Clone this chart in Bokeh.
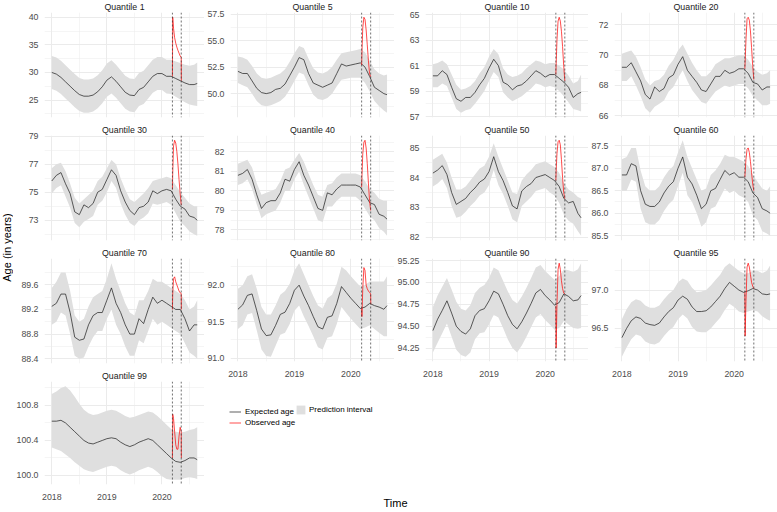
import math
from bokeh.plotting import figure
from bokeh.layouts import row, column
from bokeh.models import Range1d, FixedTicker, PrintfTickFormatter, Span, Legend, LegendItem
from bokeh.embed import file_html
from bokeh.resources import INLINE
from bokeh.core.properties import value

FONT = "Liberation Sans"
BAND = "#DFDFDF"
GRID = "#EBEBEB"
LINE = "#1A1A1A"
NAN = float("nan")

# time axis (decimal years): monthly samples plus the last observation
months = [2018 + k / 12 for k in range(32)] + [2020.64]
# observed period (lockdown window)
obs_t = [2020.19, 2020.195, 2020.21, 2020.23, 2020.25, 2020.27, 2020.29, 2020.31, 2020.33, 2020.35, 2020.352]
break_start = 2020.19
break_end = 2020.35
x_ticks = [2018, 2019, 2020]

# ---- Quantile 1
q01_exp = [30.0, 29.7, 29.1, 28.3, 27.5, 26.7, 26.0, 25.7, 25.7, 25.9, 26.5, 27.4, 28.6, 29.2, 28.4, 27.4, 26.4, 25.9, 25.8, 26.9, 27.3, 28.3, 29.3, 29.8, 29.8, 29.3, 29.3, 28.9, 28.5, 28.1, 27.8, 27.8, 28.0]
q01_hi = [33.0, 32.7, 32.1, 31.3, 30.5, 29.7, 29.0, 28.7, 28.7, 28.9, 29.5, 30.4, 31.6, 32.2, 31.4, 30.4, 29.4, 28.9, 28.8, 29.9, 30.3, 31.3, 32.3, 32.8, 32.8, 32.3, 32.3, 32.0, 31.7, 31.4, 31.2, 31.4, 31.8]
q01_lo = [27.0, 26.7, 26.1, 25.3, 24.5, 23.7, 23.0, 22.7, 22.7, 22.9, 23.5, 24.4, 25.6, 26.2, 25.4, 24.4, 23.4, 22.9, 22.8, 23.9, 24.3, 25.3, 26.3, 26.8, 26.8, 26.2, 26.1, 25.6, 25.1, 24.6, 24.2, 24.0, 23.9]
q01_obs = [29.3, 40.0, 38.0, 36.3, 35.3, 34.6, 34.0, 33.5, 33.0, 32.7, 28.5]
q01_ticks = [25, 30, 35, 40]

# ---- Quantile 5
q05_exp = [52.1, 51.9, 51.9, 51.2, 50.5, 50.1, 50.0, 50.1, 50.4, 50.5, 50.9, 51.7, 52.5, 53.4, 53.2, 51.9, 51.0, 50.8, 50.6, 50.8, 51.0, 51.9, 52.8, 52.6, 52.7, 52.8, 52.9, 52.5, 51.6, 50.6, 50.3, 50.0, 49.9]
q05_hi = [53.5, 53.4, 53.2, 52.6, 51.9, 51.5, 51.4, 51.5, 51.7, 51.9, 52.3, 53.0, 53.8, 54.5, 54.3, 53.3, 52.4, 52.0, 51.9, 52.1, 52.5, 53.2, 53.8, 53.9, 54.0, 54.1, 54.2, 53.9, 53.1, 52.3, 51.9, 51.7, 51.8]
q05_lo = [51.0, 50.8, 50.6, 50.0, 49.3, 48.9, 48.8, 48.9, 49.1, 49.3, 49.7, 50.4, 51.2, 52.0, 51.8, 50.8, 49.9, 49.5, 49.4, 49.6, 50.0, 50.7, 51.3, 51.4, 51.5, 51.5, 51.5, 51.0, 50.2, 49.3, 48.8, 48.4, 48.2]
q05_obs = [52.7, 53.8, 56.2, 57.2, 57.0, 56.0, 54.6, 53.1, 51.9, 51.6, 51.6]
q05_ticks = [50.0, 52.5, 55.0, 57.5]

# ---- Quantile 10
q10_exp = [60.2, 60.2, 60.6, 60.3, 59.3, 58.4, 58.2, 58.5, 58.5, 58.9, 59.5, 60.0, 60.8, 61.5, 61.0, 59.7, 59.5, 59.1, 59.4, 59.5, 59.8, 60.2, 60.6, 60.4, 60.1, 60.3, 60.3, 60.0, 59.7, 59.3, 58.5, 58.8, 58.9]
q10_hi = [61.1, 61.2, 61.4, 61.1, 60.3, 59.5, 59.1, 59.2, 59.4, 59.8, 60.4, 60.9, 61.7, 62.3, 61.9, 60.8, 60.3, 60.1, 60.2, 60.4, 60.8, 61.1, 61.4, 61.3, 61.1, 61.2, 61.2, 61.0, 60.7, 60.2, 59.6, 59.8, 60.3]
q10_lo = [59.3, 59.3, 59.6, 59.4, 58.5, 57.6, 57.3, 57.5, 57.6, 58.0, 58.5, 59.0, 59.8, 60.5, 60.1, 58.9, 58.5, 58.2, 58.4, 58.6, 58.9, 59.2, 59.6, 59.5, 59.3, 59.4, 59.3, 59.0, 58.6, 58.1, 57.6, 57.5, 57.4]
q10_obs = [60.3, 61.0, 63.0, 64.5, 64.8, 64.5, 63.7, 62.5, 61.0, 59.8, 59.8]
q10_ticks = [57, 59, 61, 63, 65]

# ---- Quantile 20
q20_exp = [69.2, 69.2, 69.5, 68.9, 68.3, 67.4, 67.1, 67.9, 67.6, 67.8, 68.5, 68.7, 69.4, 69.9, 69.0, 68.6, 68.2, 67.7, 67.6, 68.1, 68.6, 68.6, 69.0, 68.8, 68.9, 69.1, 69.1, 68.8, 68.2, 68.1, 67.7, 67.9, 67.9]
q20_hi = [70.1, 70.2, 70.3, 69.9, 69.2, 68.4, 68.0, 68.3, 68.4, 68.7, 69.3, 69.7, 70.3, 70.7, 70.1, 69.5, 69.0, 68.6, 68.6, 68.9, 69.4, 69.6, 69.8, 69.8, 69.9, 70.0, 70.0, 69.7, 69.2, 68.9, 68.7, 68.8, 69.0]
q20_lo = [68.3, 68.3, 68.6, 68.0, 67.3, 66.5, 66.2, 66.6, 66.8, 67.0, 67.6, 67.9, 68.5, 69.0, 68.3, 67.7, 67.3, 66.9, 66.8, 67.2, 67.6, 67.8, 68.0, 67.9, 68.0, 68.1, 68.1, 67.8, 67.3, 67.0, 66.7, 66.7, 66.8]
q20_obs = [69.1, 69.5, 71.0, 72.4, 72.5, 72.3, 71.6, 70.5, 69.3, 68.4, 68.4]
q20_ticks = [66, 68, 70, 72]

# ---- Quantile 30
q30_exp = [75.8, 76.2, 76.4, 75.6, 74.9, 73.6, 73.4, 74.1, 73.9, 74.2, 75.0, 75.2, 75.9, 76.6, 76.2, 75.1, 74.3, 73.7, 73.4, 73.9, 74.0, 74.3, 75.1, 74.9, 75.1, 75.2, 75.1, 74.5, 74.0, 73.8, 73.3, 73.2, 73.0]
q30_hi = [76.7, 77.0, 77.1, 76.5, 75.6, 74.6, 74.2, 74.5, 74.8, 75.1, 75.8, 76.1, 76.7, 77.3, 77.0, 76.0, 75.2, 74.5, 74.3, 74.6, 74.9, 75.3, 75.8, 75.9, 76.0, 76.1, 76.0, 75.5, 75.0, 74.6, 74.2, 74.0, 74.0]
q30_lo = [74.9, 75.3, 75.5, 74.7, 73.9, 72.8, 72.5, 72.9, 73.1, 73.3, 74.1, 74.4, 75.0, 75.8, 75.3, 74.2, 73.4, 72.8, 72.6, 73.0, 73.2, 73.5, 74.2, 74.1, 74.2, 74.3, 74.1, 73.5, 72.9, 72.6, 72.2, 72.0, 71.9]
q30_obs = [75.2, 76.3, 78.3, 78.7, 78.5, 77.9, 77.0, 75.9, 74.9, 74.1, 74.1]
q30_ticks = [73, 75, 77, 79]

# ---- Quantile 40
q40_exp = [80.8, 80.9, 81.1, 80.6, 79.8, 79.1, 79.4, 79.5, 79.5, 79.9, 80.6, 80.5, 81.1, 81.5, 80.8, 80.3, 79.7, 79.1, 79.0, 79.9, 79.8, 80.1, 80.3, 80.3, 80.3, 80.3, 80.2, 79.8, 79.4, 79.3, 78.8, 78.7, 78.55]
q40_hi = [81.4, 81.5, 81.6, 81.2, 80.4, 79.8, 79.9, 80.0, 80.1, 80.5, 81.1, 81.2, 81.6, 81.95, 81.5, 80.9, 80.3, 79.8, 79.7, 80.3, 80.4, 80.7, 80.9, 80.9, 80.9, 80.9, 80.8, 80.5, 80.1, 79.9, 79.6, 79.5, 79.5]
q40_lo = [80.3, 80.4, 80.6, 80.1, 79.3, 78.6, 78.8, 78.9, 79.0, 79.4, 80.0, 80.0, 80.6, 81.0, 80.3, 79.7, 79.1, 78.5, 78.4, 79.2, 79.2, 79.5, 79.7, 79.7, 79.7, 79.7, 79.5, 79.1, 78.7, 78.5, 78.1, 77.9, 77.7]
q40_obs = [80.2, 80.7, 81.9, 82.5, 82.6, 82.2, 81.4, 80.4, 79.5, 79.0, 79.0]
q40_ticks = [78, 79, 80, 81, 82]

# ---- Quantile 50
q50_exp = [84.15, 84.25, 84.4, 84.1, 83.5, 83.1, 83.2, 83.3, 83.5, 83.65, 83.85, 83.95, 84.2, 84.7, 84.2, 83.9, 83.5, 83.05, 82.95, 83.55, 83.7, 83.8, 84.0, 84.05, 84.1, 84.0, 83.9, 83.7, 83.3, 83.15, 83.2, 82.8, 82.65]
q50_hi = [84.6, 84.7, 84.8, 84.5, 84.0, 83.6, 83.6, 83.7, 83.9, 84.1, 84.3, 84.4, 84.7, 85.15, 84.7, 84.3, 83.9, 83.5, 83.45, 83.9, 84.1, 84.25, 84.45, 84.5, 84.55, 84.45, 84.35, 84.15, 83.8, 83.6, 83.5, 83.35, 83.3]
q50_lo = [83.7, 83.8, 83.95, 83.65, 83.05, 82.65, 82.7, 82.85, 83.05, 83.2, 83.4, 83.5, 83.75, 84.25, 83.75, 83.45, 83.05, 82.6, 82.5, 83.05, 83.2, 83.35, 83.55, 83.6, 83.65, 83.5, 83.4, 83.15, 82.75, 82.55, 82.45, 82.2, 82.05]
q50_obs = [83.9, 84.2, 84.8, 85.2, 85.25, 85.1, 84.6, 84.0, 83.5, 83.3, 83.3]
q50_ticks = [82, 83, 84, 85]

# ---- Quantile 60
q60_exp = [86.85, 86.85, 87.1, 87.05, 86.5, 86.2, 86.15, 86.15, 86.25, 86.45, 86.6, 86.7, 87.0, 87.25, 86.8, 86.65, 86.4, 86.1, 86.2, 86.5, 86.55, 86.75, 86.95, 86.85, 86.9, 86.8, 86.8, 86.7, 86.45, 86.35, 86.1, 86.05, 86.0]
q60_hi = [87.2, 87.25, 87.45, 87.45, 86.95, 86.6, 86.5, 86.5, 86.6, 86.8, 86.95, 87.05, 87.35, 87.62, 87.25, 87.0, 86.75, 86.5, 86.55, 86.85, 86.95, 87.1, 87.3, 87.25, 87.25, 87.2, 87.15, 87.05, 86.85, 86.7, 86.55, 86.5, 86.6]
q60_lo = [86.5, 86.5, 86.75, 86.7, 86.1, 85.8, 85.75, 85.75, 85.85, 86.05, 86.2, 86.3, 86.6, 86.9, 86.4, 86.25, 86.0, 85.7, 85.8, 86.1, 86.15, 86.35, 86.55, 86.45, 86.5, 86.4, 86.35, 86.25, 85.95, 85.85, 85.6, 85.55, 85.5]
q60_obs = [86.8, 86.9, 87.2, 87.42, 87.45, 87.35, 87.15, 86.9, 86.65, 86.5, 86.5]
q60_ticks = [85.5, 86.0, 86.5, 87.0, 87.5]

# ---- Quantile 70
q70_exp = [89.25, 89.3, 89.45, 89.45, 89.15, 88.75, 88.7, 88.72, 88.95, 89.1, 89.15, 89.15, 89.35, 89.55, 89.3, 89.15, 88.95, 88.8, 88.8, 89.05, 88.97, 89.2, 89.4, 89.3, 89.35, 89.3, 89.25, 89.2, 89.2, 89.05, 88.85, 88.95, 88.95]
q70_hi = [89.55, 89.65, 89.8, 89.8, 89.5, 89.1, 89.0, 89.05, 89.25, 89.4, 89.45, 89.5, 89.7, 89.95, 89.7, 89.5, 89.3, 89.15, 89.1, 89.35, 89.35, 89.5, 89.7, 89.65, 89.65, 89.6, 89.55, 89.5, 89.45, 89.35, 89.2, 89.25, 89.35]
q70_lo = [88.95, 89.0, 89.15, 89.1, 88.8, 88.45, 88.4, 88.42, 88.6, 88.75, 88.85, 88.85, 89.05, 89.2, 88.95, 88.8, 88.6, 88.45, 88.45, 88.7, 88.65, 88.85, 89.05, 88.95, 89.0, 88.95, 88.9, 88.85, 88.8, 88.65, 88.5, 88.45, 88.4]
q70_obs = [89.2, 89.45, 89.7, 89.73, 89.65, 89.6, 89.55, 89.5, 89.47, 89.46, 89.2]
q70_ticks = [88.4, 88.8, 89.2, 89.6]

# ---- Quantile 80
q80_exp = [91.67, 91.73, 91.86, 91.88, 91.65, 91.4, 91.31, 91.32, 91.45, 91.6, 91.63, 91.75, 91.93, 92.0, 91.85, 91.72, 91.57, 91.43, 91.4, 91.56, 91.58, 91.75, 91.98, 91.9, 91.82, 91.75, 91.68, 91.7, 91.75, 91.72, 91.7, 91.67, 91.72]
q80_hi = [91.95, 92.0, 92.12, 92.15, 91.95, 91.7, 91.6, 91.6, 91.72, 91.87, 91.92, 92.02, 92.2, 92.3, 92.15, 92.0, 91.85, 91.72, 91.68, 91.82, 91.87, 92.02, 92.25, 92.2, 92.12, 92.05, 91.98, 92.0, 92.05, 92.05, 92.05, 92.05, 92.12]
q80_lo = [91.4, 91.45, 91.6, 91.62, 91.38, 91.12, 91.03, 91.02, 91.17, 91.32, 91.35, 91.47, 91.65, 91.72, 91.57, 91.44, 91.3, 91.15, 91.12, 91.28, 91.3, 91.47, 91.7, 91.62, 91.54, 91.47, 91.4, 91.42, 91.45, 91.4, 91.35, 91.3, 91.3]
q80_obs = [91.68, 91.57, 91.95, 92.24, 92.2, 92.0, 91.95, 91.92, 91.9, 91.88, 91.74]
q80_ticks = [91.0, 91.5, 92.0]

# ---- Quantile 90
q90_exp = [94.45, 94.58, 94.68, 94.79, 94.65, 94.5, 94.44, 94.41, 94.47, 94.62, 94.68, 94.7, 94.79, 94.9, 94.87, 94.75, 94.62, 94.52, 94.47, 94.55, 94.65, 94.76, 94.88, 94.92, 94.85, 94.8, 94.74, 94.77, 94.87, 94.84, 94.79, 94.8, 94.85]
q90_hi = [94.72, 94.85, 94.95, 95.05, 94.92, 94.78, 94.7, 94.68, 94.74, 94.88, 94.94, 94.97, 95.05, 95.17, 95.14, 95.02, 94.9, 94.8, 94.76, 94.84, 94.94, 95.05, 95.17, 95.2, 95.13, 95.08, 95.03, 95.07, 95.15, 95.14, 95.12, 95.15, 95.22]
q90_lo = [94.2, 94.31, 94.42, 94.53, 94.38, 94.23, 94.17, 94.15, 94.2, 94.35, 94.42, 94.43, 94.52, 94.63, 94.6, 94.48, 94.35, 94.25, 94.2, 94.28, 94.38, 94.49, 94.6, 94.64, 94.57, 94.52, 94.46, 94.48, 94.56, 94.52, 94.48, 94.47, 94.48]
q90_obs = [94.73, 94.25, 94.75, 95.15, 95.22, 95.15, 95.02, 94.93, 94.88, 94.87, 94.87]
q90_ticks = [94.25, 94.50, 94.75, 95.00, 95.25]

# ---- Quantile 95
q95_exp = [96.38, 96.5, 96.6, 96.65, 96.63, 96.57, 96.55, 96.54, 96.57, 96.65, 96.72, 96.77, 96.87, 96.92, 96.88, 96.78, 96.72, 96.72, 96.73, 96.78, 96.85, 96.92, 97.02, 97.1, 97.05, 97.0, 96.97, 96.99, 97.02, 97.0, 96.95, 96.94, 96.95]
q95_hi = [96.62, 96.75, 96.84, 96.88, 96.86, 96.8, 96.77, 96.77, 96.8, 96.88, 96.95, 97.0, 97.1, 97.15, 97.12, 97.03, 96.97, 96.98, 97.0, 97.06, 97.13, 97.2, 97.3, 97.35, 97.3, 97.25, 97.22, 97.22, 97.25, 97.25, 97.22, 97.25, 97.32]
q95_lo = [96.13, 96.25, 96.36, 96.42, 96.4, 96.33, 96.3, 96.29, 96.32, 96.4, 96.47, 96.52, 96.62, 96.68, 96.63, 96.52, 96.46, 96.45, 96.45, 96.5, 96.57, 96.64, 96.74, 96.82, 96.78, 96.72, 96.7, 96.72, 96.74, 96.72, 96.66, 96.62, 96.6]
q95_obs = [96.97, 96.4, 96.85, 97.3, 97.35, 97.3, 97.2, 97.1, 97.05, 97.02, 97.02]
q95_ticks = [96.5, 97.0]

# ---- Quantile 99
q99_exp = [100.62, 100.62, 100.63, 100.6, 100.55, 100.5, 100.45, 100.4, 100.37, 100.36, 100.38, 100.4, 100.42, 100.43, 100.42, 100.38, 100.35, 100.33, 100.35, 100.38, 100.4, 100.42, 100.4, 100.35, 100.3, 100.25, 100.2, 100.16, 100.15, 100.17, 100.2, 100.2, 100.18]
q99_hi = [100.93, 100.96, 101.0, 101.02, 100.97, 100.9, 100.82, 100.75, 100.71, 100.69, 100.7, 100.72, 100.74, 100.75, 100.74, 100.71, 100.68, 100.66, 100.67, 100.69, 100.71, 100.73, 100.72, 100.68, 100.63, 100.58, 100.53, 100.5, 100.49, 100.5, 100.52, 100.53, 100.55]
q99_lo = [100.32, 100.3, 100.28, 100.24, 100.2, 100.15, 100.11, 100.07, 100.05, 100.04, 100.06, 100.08, 100.1, 100.11, 100.1, 100.06, 100.03, 100.01, 100.03, 100.06, 100.08, 100.1, 100.08, 100.04, 99.99, 99.96, 99.95, 99.95, 99.95, 99.97, 99.98, 99.97, 99.96]
q99_obs = [100.2, 100.7, 100.65, 100.5, 100.35, 100.3, 100.3, 100.45, 100.55, 100.5, 100.2]
q99_ticks = [100.0, 100.4, 100.8]

panels = [
    ("Quantile 1", q01_exp, q01_lo, q01_hi, q01_obs, q01_ticks, "%.0f"),
    ("Quantile 5", q05_exp, q05_lo, q05_hi, q05_obs, q05_ticks, "%.1f"),
    ("Quantile 10", q10_exp, q10_lo, q10_hi, q10_obs, q10_ticks, "%.0f"),
    ("Quantile 20", q20_exp, q20_lo, q20_hi, q20_obs, q20_ticks, "%.0f"),
    ("Quantile 30", q30_exp, q30_lo, q30_hi, q30_obs, q30_ticks, "%.0f"),
    ("Quantile 40", q40_exp, q40_lo, q40_hi, q40_obs, q40_ticks, "%.0f"),
    ("Quantile 50", q50_exp, q50_lo, q50_hi, q50_obs, q50_ticks, "%.0f"),
    ("Quantile 60", q60_exp, q60_lo, q60_hi, q60_obs, q60_ticks, "%.1f"),
    ("Quantile 70", q70_exp, q70_lo, q70_hi, q70_obs, q70_ticks, "%.1f"),
    ("Quantile 80", q80_exp, q80_lo, q80_hi, q80_obs, q80_ticks, "%.1f"),
    ("Quantile 90", q90_exp, q90_lo, q90_hi, q90_obs, q90_ticks, "%.2f"),
    ("Quantile 95", q95_exp, q95_lo, q95_hi, q95_obs, q95_ticks, "%.1f"),
    ("Quantile 99", q99_exp, q99_lo, q99_hi, q99_obs, q99_ticks, "%.1f"),
]

# layout geometry (pixels)
PAGE_H = 512
FRAME_W = 167
FRAME_H = 106
STRIP_H = 11
GAP_H = 6
AXIS_H = 16
LEFT = [24, 23, 27, 22]
N_COLS = 4


def minor_between(ticks):
    step = ticks[1] - ticks[0]
    return [ticks[0] - step / 2] + [t + step / 2 for t in ticks]


def style_axis(ax, standoff):
    ax.axis_line_color = None
    ax.major_tick_line_color = None
    ax.minor_tick_line_color = None
    ax.major_tick_out = 0
    ax.major_tick_in = 0
    ax.major_label_standoff = standoff
    ax.major_label_text_font = FONT
    ax.major_label_text_font_size = "8.8px"
    ax.major_label_text_color = "#4D4D4D"


def blank(p):
    p.axis.visible = False
    p.grid.visible = False
    p.outline_line_color = None


def make_panel(title, exp, lo, hi, obs, ticks, fmt, col, show_x):
    ymin = min(min(lo), min(obs), min(exp))
    ymax = max(max(hi), max(obs), max(exp))
    ypad = 0.05 * (ymax - ymin)
    xpad = 0.05 * (months[-1] - months[0])
    bottom = AXIS_H if show_x else GAP_H
    p = figure(width=LEFT[col] + FRAME_W, height=STRIP_H + FRAME_H + bottom,
               x_range=Range1d(months[0] - xpad, months[-1] + xpad),
               y_range=Range1d(ymin - ypad, ymax + ypad),
               min_border_left=LEFT[col], min_border_right=0,
               min_border_top=STRIP_H, min_border_bottom=bottom,
               output_backend="svg", toolbar_location=None, title=title)
    p.title.align = "center"
    p.title.vertical_align = "middle"
    p.title.text_font = FONT
    p.title.text_font_size = "8.8px"
    p.title.text_font_style = "normal"
    p.title.text_color = "#1A1A1A"
    p.title.standoff = 0
    p.title.offset = 0
    p.outline_line_color = None
    p.background_fill_color = "white"
    p.border_fill_color = "white"

    xt = FixedTicker(ticks=x_ticks, minor_ticks=[t + 0.5 for t in x_ticks])
    yt = FixedTicker(ticks=ticks, minor_ticks=minor_between(ticks))
    p.xaxis.ticker = xt
    p.xgrid.ticker = xt
    p.yaxis.ticker = yt
    p.ygrid.ticker = yt
    p.yaxis.formatter = PrintfTickFormatter(format=fmt)
    p.xaxis.formatter = PrintfTickFormatter(format="%d")
    style_axis(p.yaxis[0], 2)
    style_axis(p.xaxis[0], 5)
    p.xaxis.visible = show_x
    for g in (p.xgrid[0], p.ygrid[0]):
        g.grid_line_color = GRID
        g.grid_line_width = 1
        g.minor_grid_line_color = GRID
        g.minor_grid_line_width = 0.5

    p.varea(x=months, y1=lo, y2=hi, fill_color=BAND)
    p.line(x=months, y=exp, line_color=LINE, line_width=0.7)
    p.line(x=obs_t, y=obs, line_color="red", line_width=0.7)
    for loc in (break_start, break_end):
        p.add_layout(Span(location=loc, dimension="height", line_color="#333333",
                          line_dash="2 2", line_width=0.7))
    return p


cols = [[] for _ in range(N_COLS)]
for i, (title, exp, lo, hi, obs, ticks, fmt) in enumerate(panels):
    c = i % N_COLS
    r = i // N_COLS
    last_in_col = (r + 1) * N_COLS + c >= len(panels)
    cols[c].append(make_panel(title, exp, lo, hi, obs, ticks, fmt, c, last_in_col))

# the free area under columns 2-4 holds the legends and the shared x title
right_w = sum(LEFT[1:]) + 3 * FRAME_W
right_top_h = 2 * (STRIP_H + FRAME_H + GAP_H) + (STRIP_H + FRAME_H + AXIS_H)
foot_h = PAGE_H - right_top_h
foot = figure(width=right_w, height=foot_h, x_range=Range1d(0, right_w), y_range=Range1d(0, foot_h),
              min_border=0, output_backend="svg", toolbar_location=None)
blank(foot)
r_exp = foot.line(x=[NAN], y=[NAN], line_color=LINE, line_width=0.7)
r_obs = foot.line(x=[NAN], y=[NAN], line_color="red", line_width=0.7)
r_band = foot.quad(left=[NAN], right=[NAN], top=[NAN], bottom=[NAN], fill_color=BAND, line_color=None)
leg_lines = Legend(items=[LegendItem(label="Expected age", renderers=[r_exp]),
                          LegendItem(label="Observed age", renderers=[r_obs])],
                   location=(25, 84))
leg_band = Legend(items=[LegendItem(label="Prediction interval", renderers=[r_band])],
                  location=(91, 97))
for lg in (leg_lines, leg_band):
    lg.border_line_color = None
    lg.background_fill_alpha = 0
    lg.label_text_font = FONT
    lg.label_text_font_size = "8px"
    lg.label_text_color = "black"
    lg.glyph_height = 11
    lg.label_height = 11
    lg.label_width = 10
    lg.spacing = 0
    lg.padding = 0
    lg.margin = 0
    foot.add_layout(lg)
leg_lines.glyph_width = 12
leg_lines.label_standoff = 4
leg_band.glyph_width = 11
leg_band.label_standoff = 3

# shared x title, centred under the panel block
foot.text(x=[191], y=[10], text=["Time"], text_align="center", text_baseline="middle",
          text_font=value(FONT), text_font_size="11px", text_color="black")

# shared y title
ylab = figure(width=13, height=494, x_range=Range1d(0, 1), y_range=Range1d(0, 1),
              min_border=0, output_backend="svg", toolbar_location=None)
blank(ylab)
ylab.text(x=[0.5], y=[0.5], text=["Age (in years)"], angle=math.pi / 2,
          text_align="center", text_baseline="middle", text_font=value(FONT),
          text_font_size="11px", text_color="black")

right_top = row(*[column(*c) for c in cols[1:]])
layout = row(ylab, column(*cols[0]), column(right_top, foot))

open("out.html", "w").write(file_html(layout, INLINE))
